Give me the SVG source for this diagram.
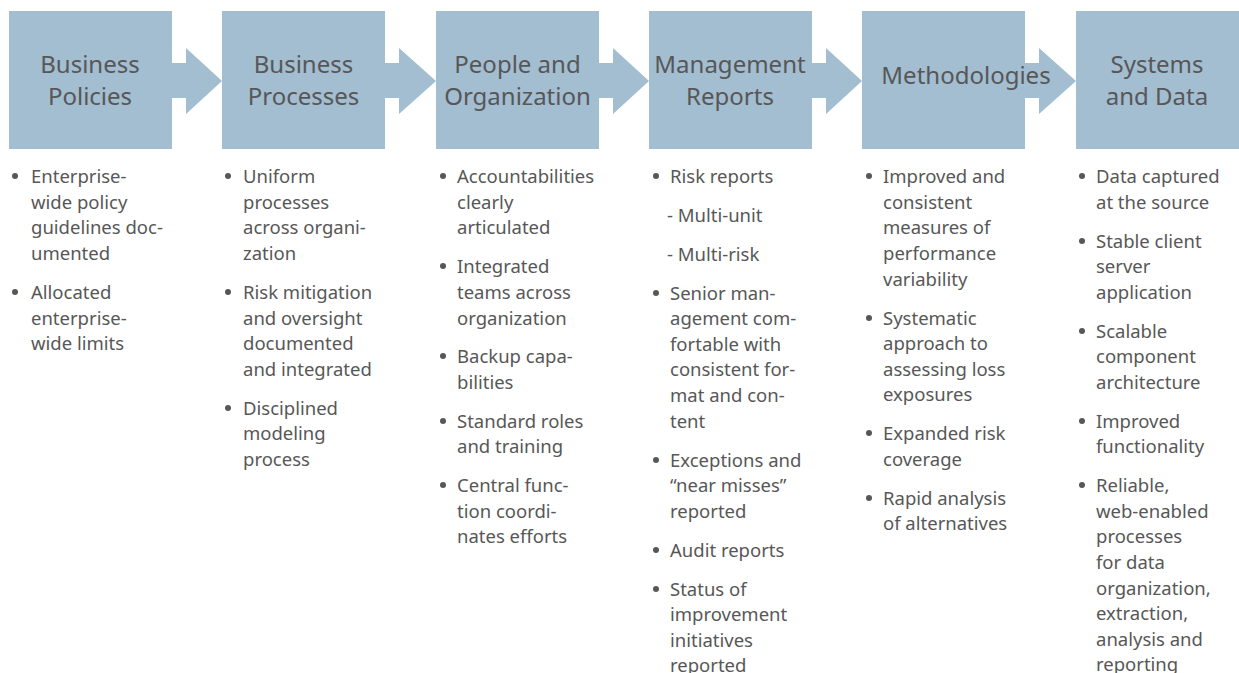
<svg xmlns="http://www.w3.org/2000/svg" width="1239" height="673" viewBox="0 0 1239 673">
<style>
.box{fill:#a3bdd1}
.arr{fill:#a3bdd1}
.hd{font-family:"Noto Sans","Open Sans",sans-serif;font-size:24px;fill:#575757;text-anchor:middle}
.tx{font-family:"Noto Sans","Open Sans",sans-serif;font-size:18.5px;fill:#575757}
.dot{fill:#575757}
</style>
<rect width="1239" height="673" fill="#ffffff"/>
<g id="connectors">
<path class="arr" d="M172 63H186V48L222 81L186 114V98H172Z"/>
<path class="arr" d="M385 63H399V48L436 81L399 114V98H385Z"/>
<path class="arr" d="M599 63H613V48L649 81L613 114V98H599Z"/>
<path class="arr" d="M812 63H826V48L862 81L826 114V98H812Z"/>
<path class="arr" d="M1025 63H1039V48L1076 81L1039 114V98H1025Z"/>
</g>
<g id="node-business-policies">
<rect class="box" x="9" y="11" width="163" height="138"/>
<text class="hd"><tspan x="90" y="73">Business</tspan><tspan x="90" y="105">Policies</tspan></text>
<circle class="dot" cx="15" cy="176" r="3"/><circle class="dot" cx="15" cy="292" r="3"/>
<text class="tx"><tspan x="31" y="183">Enterprise-</tspan><tspan x="31" y="209">wide policy</tspan><tspan x="31" y="234">guidelines doc-</tspan><tspan x="31" y="260">umented</tspan><tspan x="31" y="299">Allocated</tspan><tspan x="31" y="325">enterprise-</tspan><tspan x="31" y="350">wide limits</tspan></text>
</g>
<g id="node-business-processes">
<rect class="box" x="222" y="11" width="163" height="138"/>
<text class="hd"><tspan x="303.5" y="73">Business</tspan><tspan x="303.5" y="105">Processes</tspan></text>
<circle class="dot" cx="228" cy="176" r="3"/><circle class="dot" cx="228" cy="292" r="3"/><circle class="dot" cx="228" cy="408" r="3"/>
<text class="tx"><tspan x="243" y="183">Uniform</tspan><tspan x="243" y="209">processes</tspan><tspan x="243" y="234">across organi-</tspan><tspan x="243" y="260">zation</tspan><tspan x="243" y="299">Risk mitigation</tspan><tspan x="243" y="325">and oversight</tspan><tspan x="243" y="350">documented</tspan><tspan x="243" y="376">and integrated</tspan><tspan x="243" y="415">Disciplined</tspan><tspan x="243" y="440">modeling</tspan><tspan x="243" y="466">process</tspan></text>
</g>
<g id="node-people-organization">
<rect class="box" x="436" y="11" width="163" height="138"/>
<text class="hd"><tspan x="517.5" y="73">People and</tspan><tspan x="517.5" y="105">Organization</tspan></text>
<circle class="dot" cx="443" cy="176" r="3"/><circle class="dot" cx="443" cy="266" r="3"/><circle class="dot" cx="443" cy="356" r="3"/><circle class="dot" cx="443" cy="421" r="3"/><circle class="dot" cx="443" cy="485" r="3"/>
<text class="tx"><tspan x="457" y="183">Accountabilities</tspan><tspan x="457" y="209">clearly</tspan><tspan x="457" y="234">articulated</tspan><tspan x="457" y="273">Integrated</tspan><tspan x="457" y="299">teams across</tspan><tspan x="457" y="325">organization</tspan><tspan x="457" y="363">Backup capa-</tspan><tspan x="457" y="389">bilities</tspan><tspan x="457" y="428">Standard roles</tspan><tspan x="457" y="453">and training</tspan><tspan x="457" y="492">Central func-</tspan><tspan x="457" y="518">tion coordi-</tspan><tspan x="457" y="543">nates efforts</tspan></text>
</g>
<g id="node-management-reports">
<rect class="box" x="649" y="11" width="163" height="138"/>
<text class="hd"><tspan x="730" y="73">Management</tspan><tspan x="730" y="105">Reports</tspan></text>
<circle class="dot" cx="656" cy="176" r="3"/><circle class="dot" cx="656" cy="293" r="3"/><circle class="dot" cx="656" cy="460" r="3"/><circle class="dot" cx="656" cy="550" r="3"/><circle class="dot" cx="656" cy="589" r="3"/>
<text class="tx"><tspan x="670" y="183">Risk reports</tspan><tspan x="667" y="222">- Multi-unit</tspan><tspan x="667" y="261">- Multi-risk</tspan><tspan x="670" y="300">Senior man-</tspan><tspan x="670" y="325">agement com-</tspan><tspan x="670" y="351">fortable with</tspan><tspan x="670" y="376">consistent for-</tspan><tspan x="670" y="402">mat and con-</tspan><tspan x="670" y="428">tent</tspan><tspan x="670" y="467">Exceptions and</tspan><tspan x="670" y="492">“near misses”</tspan><tspan x="670" y="518">reported</tspan><tspan x="670" y="557">Audit reports</tspan><tspan x="670" y="596">Status of</tspan><tspan x="670" y="621">improvement</tspan><tspan x="670" y="647">initiatives</tspan><tspan x="670" y="672">reported</tspan></text>
</g>
<g id="node-methodologies">
<rect class="box" x="862" y="11" width="163" height="138"/>
<text class="hd" x="966" y="84">Methodologies</text>
<circle class="dot" cx="869" cy="176" r="3"/><circle class="dot" cx="869" cy="318" r="3"/><circle class="dot" cx="869" cy="433" r="3"/><circle class="dot" cx="869" cy="498" r="3"/>
<text class="tx"><tspan x="883" y="183">Improved and</tspan><tspan x="883" y="209">consistent</tspan><tspan x="883" y="234">measures of</tspan><tspan x="883" y="260">performance</tspan><tspan x="883" y="286">variability</tspan><tspan x="883" y="325">Systematic</tspan><tspan x="883" y="350">approach to</tspan><tspan x="883" y="376">assessing loss</tspan><tspan x="883" y="401">exposures</tspan><tspan x="883" y="440">Expanded risk</tspan><tspan x="883" y="466">coverage</tspan><tspan x="883" y="505">Rapid analysis</tspan><tspan x="883" y="530">of alternatives</tspan></text>
</g>
<g id="node-systems-data">
<rect class="box" x="1076" y="11" width="163" height="138"/>
<text class="hd"><tspan x="1157" y="73">Systems</tspan><tspan x="1157" y="105">and Data</tspan></text>
<circle class="dot" cx="1082" cy="176" r="3"/><circle class="dot" cx="1082" cy="241" r="3"/><circle class="dot" cx="1082" cy="331" r="3"/><circle class="dot" cx="1082" cy="421" r="3"/><circle class="dot" cx="1082" cy="485" r="3"/>
<text class="tx"><tspan x="1096" y="183">Data captured</tspan><tspan x="1096" y="209">at the source</tspan><tspan x="1096" y="248">Stable client</tspan><tspan x="1096" y="273">server</tspan><tspan x="1096" y="299">application</tspan><tspan x="1096" y="338">Scalable</tspan><tspan x="1096" y="363">component</tspan><tspan x="1096" y="389">architecture</tspan><tspan x="1096" y="428">Improved</tspan><tspan x="1096" y="453">functionality</tspan><tspan x="1096" y="492">Reliable,</tspan><tspan x="1096" y="518">web-enabled</tspan><tspan x="1096" y="543">processes</tspan><tspan x="1096" y="569">for data</tspan><tspan x="1096" y="595">organization,</tspan><tspan x="1096" y="620">extraction,</tspan><tspan x="1096" y="646">analysis and</tspan><tspan x="1096" y="671">reporting</tspan></text>
</g>
</svg>
